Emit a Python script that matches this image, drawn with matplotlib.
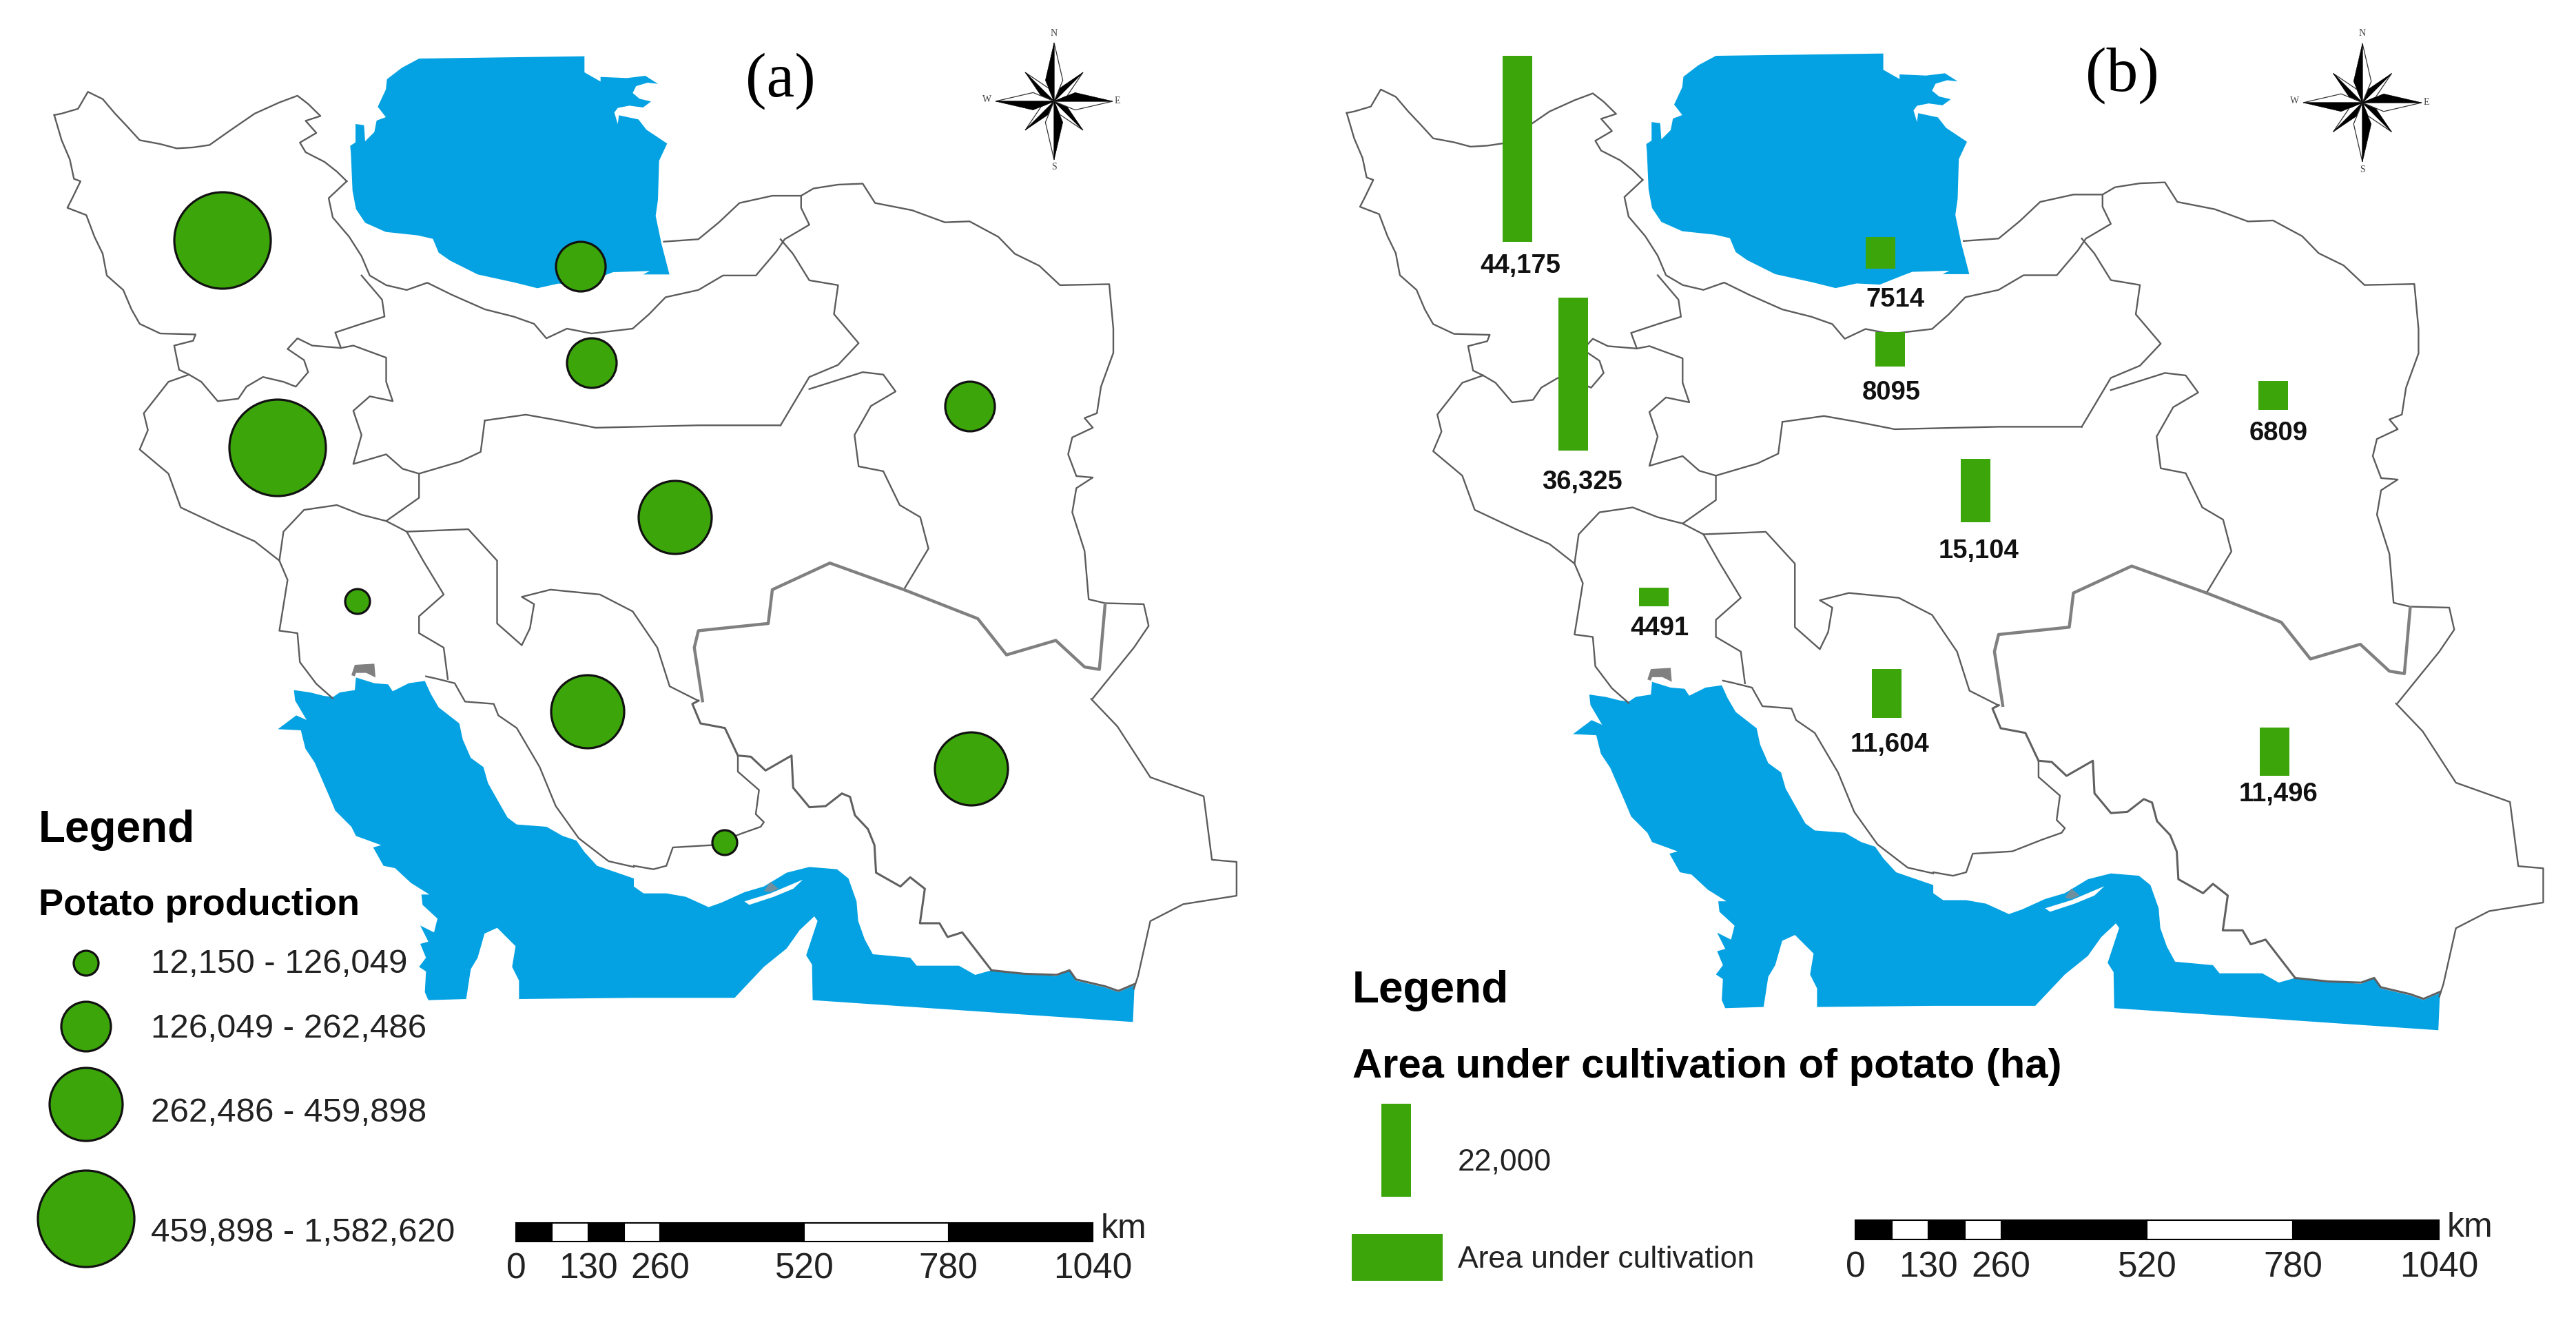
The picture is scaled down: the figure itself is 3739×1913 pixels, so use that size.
import matplotlib
matplotlib.use('Agg')
import matplotlib.pyplot as plt
from matplotlib.patches import Circle, Polygon, Rectangle
import numpy as np

W, H = 3739, 1913

CASPIAN = [(385,75),(1105,65),(1105,135),(1175,175),(1175,155),(1290,160),(1370,150),(1425,185),(1380,180),(1330,195),
           (1315,225),(1345,250),(1395,262),(1360,288),(1300,280),(1250,290),(1235,310),(1250,360),(1255,322),(1340,340),
           (1375,385),(1465,445),(1430,520),(1425,690),(1415,760),(1440,880),(1475,1015),(1360,1015),(1390,1000),
           (1230,1005),(1190,1020),(1090,1060),(990,1055),(900,1075),(800,1050),(640,1015),(520,955),(470,920),(445,860),
           (380,845),(240,830),(150,790),(110,730),(95,650),(88,490),(85,455),(108,440),(108,360),(145,365),(150,435),
           (190,395),(200,345),(240,330),(205,285),(240,210),(245,165),(310,115)]
GULF_W1 = [(80,125),(150,135),(210,150),(250,155),(280,135),(345,125),(350,70),(430,95),(490,100),(510,130),(580,95),
           (650,85),(675,140),(710,200),(800,270),(815,340),(850,420),(905,460),(925,530),(970,610),(1010,680),(1050,710),
           (1180,720),(1250,760),(1310,780),(1345,830),(1400,890),(1560,945)]
GULF_E = [(0,860),(30,890),(100,890),(160,905),(230,950),(270,930),(340,885),(400,860),(470,800),(540,775),(625,785),
          (660,825),(685,925),(690,1010),(710,1090),(735,1155),(850,1170),(870,1205),(1000,1205),(1050,1245),(1100,1225),
          (1200,1240),(1300,1250),(1340,1225),(1360,1270),(1450,1300),(1490,1320),(1540,1290),(1535,1450),(550,1355),
          (548,1200),(530,1160),(565,1010),(555,990),(510,1050),(470,1130),(400,1210),(310,1345),(0,1345)]
GULF_W2 = [(1060,1470),(1060,1390),(1030,1330),(1045,1240),(1000,1195),(965,1160),(910,1185),(880,1290),(850,1340),
           (830,1470),(665,1475),(650,1440),(655,1350),(625,1330),(655,1290),(630,1230),(665,1220),(630,1150),(690,1180),
           (705,1120),(640,1060),(635,1015),(670,1015),(590,965),(520,900),(470,890),(425,810),(460,800),(350,760),
           (330,720),(260,650),(235,590),(170,440),(130,380),(110,300),(10,295),(90,235),(135,255),(85,170)]
ISLAND = [(340,925),(420,890),(520,830),(490,870),(430,905),(355,940)]
ISLAND_SPOT = [(400,880),(420,840),(445,870),(420,885)]
LAGOON = [(330,60),(345,15),(430,10),(435,70),(395,50),(350,50),(345,65)]

LINES_TOP = [
    [(66,238),(75,235),(95,225),(107,190),(125,205),(140,235),(155,262),(170,290),(195,298),(215,307),(235,305),
     (255,300),(280,270),(310,235),(340,212),(362,198),(375,215),(390,240),(372,250),(385,275),(365,295),(372,315),
     (395,335),(410,355),(422,375)],
    [(66,238),(75,290),(85,330),(90,370),(98,375),(88,410),(82,430),(105,445),(115,490),(125,525),(130,570),(150,600),
     (160,640),(170,670),(195,690),(238,692),(235,705),(212,715),(218,765),(230,775),(245,790),(265,830),(290,825),
     (300,800),(320,780),(345,790),(360,800),(375,770),(370,745),(350,722),(362,700),(380,715),(415,720),(408,688),
     (440,670),(468,655),(465,620),(440,570)],
    [(422,375),(400,410),(405,450),(425,490),(440,530),(450,570),(470,590),(495,600),(520,585),(550,610),(590,640),
     (625,655),(650,670),(665,700),(690,680),(720,690),(770,680),(790,650),(810,615),(850,600),(880,570),(920,570),
     (945,520),(955,495),(985,465),(975,430),(975,405)],
    [(808,500),(850,495),(875,460),(900,420),(940,405),(975,405),(990,390),(1020,382),(1050,380),(1065,420),(1110,435),
     (1150,460),(1180,458),(1215,490),(1235,525),(1265,550),(1290,590),(1350,588),(1355,680),(1355,730),(1340,800),
     (1335,855),(1320,865),(1330,885),(1305,905),(1300,940),(1310,985),(1330,988),(1310,1010),(1305,1060),(1320,1140),
     (1325,1240),(1345,1248),(1392,1250),(1398,1295),(1380,1340),(1330,1445)],
    [(950,495),(965,525),(985,580),(1020,590),(1015,650),(1045,710),(1020,755),(985,780),(950,880)],
    [(590,870),(640,858),(680,870),(725,885),(850,880),(950,880)],
    [(985,805),(1050,770),(1075,775),(1090,810),(1060,840),(1040,900),(1045,965),(1075,975),(1095,1045),(1120,1070),
     (1130,1135),(1100,1220)],
    [(590,870),(585,935),(560,955),(510,980),(510,1030),(470,1078),(495,1100),(570,1095),(605,1160),(605,1290),
     (635,1335),(645,1300),(650,1250),(635,1235),(670,1220),(730,1230),(770,1265),(800,1340),(815,1420),(850,1450)],
    [(415,720),(430,715),(470,740),(470,790),(478,830),(450,820),(430,850),(440,900),(430,960),(470,940),(490,970),(510,980)],
    [(230,775),(205,790),(175,855),(180,890),(170,930),(205,980),(220,1050),(270,1090),(310,1120),(340,1160),(345,1100),
     (370,1055),(410,1045),(440,1065),(470,1078)],
    [(340,1160),(350,1200),(340,1305),(362,1310),(365,1370),(385,1415),(405,1445)],
    [(495,1100),(515,1160),(540,1230),(510,1275),(510,1310),(540,1340),(545,1405)],
]
LINES_BOTTOM = [
    [(1328,105),(1360,170),(1400,290),(1465,335),(1475,485),(1505,490),(1505,570),(1440,590),(1400,630),(1385,760),(1380,790)],
]
LINES_W = [
    [(1560,895),(1450,870),(1320,770),(1220,630),(1150,460),(1050,290),(970,235),(950,185),(825,175),(780,95),(700,75),(655,65)],
]
LINES_E = [
    [(320,290),(320,360),(385,440),(375,545),(400,580),(390,600),(330,630),(240,680),(120,690),(100,770),(60,785),(0,770)],
]
BORDER_E = [
    [(199,51),(180,65),(205,150),(280,170),(320,290),(360,295),(405,355),(485,290),(490,430),(540,515),(590,510),(640,455),
     (665,470),(680,550),(720,610),(740,680),(745,800),(820,860),(850,820),(895,870),(880,1020),(940,1020),(965,1080),
     (1010,1060),(1100,1225)],
    [(1100,1225),(1200,1240),(1300,1245),(1340,1225),(1360,1265),(1450,1295),(1490,1315),(1540,1285)],
]
BORDER_TOP = [
    [(855,1450),(845,1340),(850,1305),(935,1290),(940,1220),(1010,1165),(1100,1220),(1190,1280),(1225,1355),
     (1285,1325),(1320,1380),(1338,1385),(1345,1250)],
]

# potato production (a): class index per province
prod_x = [323, 403, 843, 859, 1408, 980, 853, 519, 1410, 1052]
prod_y = [349, 650, 387, 527, 590, 751, 1033, 873, 1116, 1223]
prod_class = [3, 3, 1, 1, 1, 2, 2, 0, 2, 0]
class_labels = ['12,150 - 126,049', '126,049 - 262,486', '262,486 - 459,898', '459,898 - 1,582,620']
class_radius = [18, 36, 53, 70]

# area under cultivation (b)
area_ha = [44175, 36325, 7514, 8095, 6809, 15104, 4491, 11604, 11496]
area_text = ['44,175', '36,325', '7514', '8095', '6809', '15,104', '4491', '11,604', '11,496']
area_x = [2203, 2284, 2730, 2744, 3300, 2868, 2401, 2739, 3302]
area_bottom = [351, 654, 390, 532, 595, 758, 880, 1042, 1126]
area_label_x = [2207, 2297, 2751, 2745, 3307, 2872, 2409, 2743, 3307]
area_label_y = [386, 700, 435, 570, 629, 800, 912, 1081, 1153]

scale_km = [0, 65, 130, 195, 260, 520, 780, 1040]
scale_labels = [0, 130, 260, 520, 780, 1040]

GREEN = '#3ca50a'
BLUE = '#04a2e2'
LINE = '#5c5c5c'
HA_TO_PX = 0.00612
SANS = 'Liberation Sans'


def crop(pts, x0, y0, sx, sy):
    a = np.array(pts, float)
    return np.c_[x0 + a[:, 0] * sx, y0 + a[:, 1] * sy]


def top(pts):
    return crop(pts, 0, 0, 1.1926, 0.7015)


def bottom(pts):
    return crop(pts, 0, 950, 1.1926, 0.6142)


def west(pts):
    return crop(pts, 400, 960, 1 / 3, 1 / 3)


def east(pts):
    return crop(pts, 920, 1000, 1 / 2.119, 1 / 3)


def north(pts):
    return crop(pts, 480, 60, 1 / 3, 1 / 3)


def panel_a(xy):
    return xy


def panel_b(xy):
    return np.c_[1956 + (xy[:, 0] - 80) * 1.012, 79 + (xy[:, 1] - 83) * 1.0114]


fig = plt.figure(figsize=(W / 100, H / 100), dpi=100)
ax = fig.add_axes([0, 0, 1, 1])
ax.set_xlim(0, W)
ax.set_ylim(H, 0)
ax.axis('off')


def draw_map(tf):
    gulf = np.vstack([west(GULF_W1), east(GULF_E), west(GULF_W2)])
    ax.add_patch(Polygon(tf(north(CASPIAN)), fc=BLUE, ec='none', zorder=1))
    ax.add_patch(Polygon(tf(gulf), fc=BLUE, ec='none', zorder=1))
    ax.add_patch(Polygon(tf(east(ISLAND)), fc='white', ec='none', zorder=2))
    ax.add_patch(Polygon(tf(east(ISLAND_SPOT)), fc='#6f8f9f', ec='none', zorder=2))
    ax.add_patch(Polygon(tf(west(LAGOON)), fc='#808080', ec='none', zorder=2))
    thin = [top(l) for l in LINES_TOP] + [bottom(l) for l in LINES_BOTTOM] + [west(l) for l in LINES_W] + [east(l) for l in LINES_E]
    for xy in thin:
        xy = tf(xy)
        ax.plot(xy[:, 0], xy[:, 1], color=LINE, lw=1.7, zorder=3)
    for line in BORDER_TOP:
        xy = tf(top(line))
        ax.plot(xy[:, 0], xy[:, 1], color='#808080', lw=3.2, zorder=3)
    for line in BORDER_E:
        xy = tf(east(line))
        ax.plot(xy[:, 0], xy[:, 1], color='#606060', lw=2.2, zorder=3)


def draw_compass(cx, cy, k=1.0):
    long_arm, diag, waist = 85 * k, 42 * k, 33 * k
    for i in range(8):
        ang = np.pi / 2 + i * np.pi / 4
        r = long_arm if i % 2 == 0 else diag * np.sqrt(2)
        w = waist if i % 2 == 0 else waist * 0.62
        tip = np.array([np.cos(ang), -np.sin(ang)]) * r
        side1 = np.array([np.cos(ang + np.pi / 8), -np.sin(ang + np.pi / 8)]) * w
        side2 = np.array([np.cos(ang - np.pi / 8), -np.sin(ang - np.pi / 8)]) * w
        c = np.array([cx, cy])
        z = 5 if i % 2 else 5.5
        ax.add_patch(Polygon([c, c + tip, c + side2], fc='white', ec='#333333', lw=0.9, zorder=z))
        ax.add_patch(Polygon([c, c + tip, c + side1], fc='black', ec='black', lw=0.4, zorder=z))
    for s, dx, dy in [('N', 0, -99), ('S', 0, 96), ('W', -97, -2), ('E', 92, 0)]:
        ax.text(cx + dx * k, cy + dy * k, s, family='Liberation Serif', fontsize=10, color='#444444',
                ha='center', va='center', zorder=6)


def draw_scale(x0, x1, y0, y1, label_y, km_x, km_y):
    k = (x1 - x0) / scale_km[-1]
    for i in range(len(scale_km) - 1):
        ax.add_patch(Rectangle((x0 + scale_km[i] * k, y0), (scale_km[i + 1] - scale_km[i]) * k, y1 - y0,
                               fc='black' if i % 2 == 0 else 'white', ec='black', lw=1.5, zorder=5))
    for v in scale_labels:
        ax.text(x0 + v * k, label_y, str(v), family=SANS, fontsize=37, color='#222222', ha='center', va='center')
    ax.text(km_x, km_y, 'km', family=SANS, fontsize=36, color='#222222', ha='center', va='center')


# panel a
draw_map(panel_a)
for x, y, c in zip(prod_x, prod_y, prod_class):
    ax.add_patch(Circle((x, y), class_radius[c], fc=GREEN, ec='#111111', lw=2.3, zorder=6))
ax.text(1133, 118, '(a)', family='Liberation Serif', fontsize=66, ha='center', va='center')
draw_compass(1530, 147)
draw_scale(749, 1586, 1775, 1802, 1842, 1631, 1784)
ax.text(56, 1205, 'Legend', family=SANS, fontsize=46, weight='bold', ha='left', va='center')
ax.text(56, 1314, 'Potato production', family=SANS, fontsize=39, weight='bold', ha='left', va='center')
for r, ly, ty, lab in zip(class_radius, [1398, 1490, 1603, 1769], [1400, 1494, 1616, 1790], class_labels):
    ax.add_patch(Circle((125, ly), r, fc=GREEN, ec='#111111', lw=2.3, zorder=6))
    ax.text(219, ty, lab, family=SANS, fontsize=35.5, color='#222222', ha='left', va='center', zorder=7)

# panel b
draw_map(panel_b)
ax.bar(area_x, [v * HA_TO_PX for v in area_ha], width=43, bottom=[b - v * HA_TO_PX for b, v in zip(area_bottom, area_ha)],
       color=GREEN, zorder=6)
for x, y, t in zip(area_label_x, area_label_y, area_text):
    ax.text(x, y, t, family=SANS, fontsize=27.5, weight='bold', color='#111111', ha='center', va='center', zorder=7)
ax.text(3080, 110, '(b)', family='Liberation Serif', fontsize=66, ha='center', va='center')
draw_compass(3429, 149, 1.012)
draw_scale(2693, 3540, 1771, 1799, 1840, 3585, 1782)
ax.text(1963, 1438, 'Legend', family=SANS, fontsize=46, weight='bold', ha='left', va='center')
ax.text(1963, 1549, 'Area under cultivation of potato (ha)', family=SANS, fontsize=43, weight='bold', ha='left', va='center')
ax.bar([2027], [22000 * HA_TO_PX], width=43, bottom=[1737 - 22000 * HA_TO_PX], color=GREEN, zorder=6)
ax.text(2116, 1687, '22,000', family=SANS, fontsize=32, color='#222222', ha='left', va='center')
ax.add_patch(Rectangle((1962, 1791), 132, 68, fc=GREEN, ec='none', zorder=6))
ax.text(2116, 1828, 'Area under cultivation', family=SANS, fontsize=32, color='#222222', ha='left', va='center')

fig.savefig('out.png', dpi=100, facecolor='white')
